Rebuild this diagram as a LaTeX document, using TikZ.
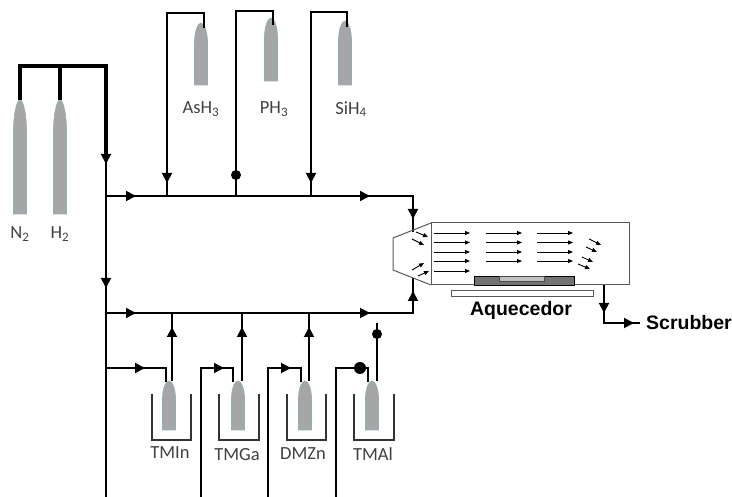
\documentclass[tikz,border=0pt]{standalone}
\usepackage{fontspec}
\setmainfont{Carlito}
\newfontfamily\boldsans{Liberation Sans}
\usetikzlibrary{arrows.meta}
\definecolor{bottlegray}{HTML}{A6A6A6}
\definecolor{bottleedge}{HTML}{8FB0B5}
\definecolor{labelgray}{HTML}{404040}
\tikzset{
    pipe/.style={line width=1.9pt,black,line join=miter},
    mainpipe/.style={line width=3.6pt,black,line join=miter},
    flow/.style={pipe,-{Triangle[length=10pt,width=10pt]}},
    dot/.style={circle,fill=black,inner sep=0pt,minimum size=#1},
    stream/.style={line width=0.9pt,black,-{Triangle[length=5pt,width=4pt]}},
    chamber/.style={draw=black!65,line width=1pt},
    gaslabel/.style={text=labelgray,font=\fontsize{18.5}{20}\selectfont,inner sep=0pt},
    boldlabel/.style={font=\boldsans\bfseries\fontsize{19.5}{21}\selectfont,inner sep=0pt},
    bath/.style={draw=black!80,line width=1.1pt}
}
\newcommand{\bottle}[4]{% centre x, top y, bottom y, shoulder length
    \filldraw[fill=bottlegray,draw=bottleedge,line width=0.7pt]
        (#1-6.5,#3) -- (#1-6.5,#2+#4) .. controls (#1-6.5,#2+#4*0.4) and (#1-3,#2) .. (#1,#2)
        .. controls (#1+3,#2) and (#1+6.5,#2+#4*0.4) .. (#1+6.5,#2+#4) -- (#1+6.5,#3) -- cycle;
}
\begin{document}
\begin{tikzpicture}[x=1pt,y=-1pt]
    \useasboundingbox (0,0) rectangle (732,497);
    % carrier gas bottles
    \bottle{20}{100}{214}{32}
    \bottle{60}{100}{214}{32}
    \node[gaslabel] (n2) at (20,234) {N\textsubscript{2}};
    \node[gaslabel] (h2) at (60,234) {H\textsubscript{2}};
    \draw[mainpipe] (20,100) -- (20,66) -- (106,66) -- (106,156);
    \draw[mainpipe] (60,100) -- (60,66);
    % main vertical line and the two manifolds
    \coordinate (mainTop) at (106,156);
    \coordinate (mainBottom) at (106,497);
    \coordinate (upperStart) at (106,196);
    \coordinate (lowerStart) at (106,313);
    \coordinate (upperEnd) at (413,196);
    \coordinate (lowerEnd) at (413,313);
    \draw[pipe] (mainTop) -- (mainBottom);
    \draw[flow] (106,150) -- (106,164);
    \draw[flow] (106,270) -- (106,288);
    \draw[pipe] (upperStart) -- (upperEnd) -- (413,232);
    \draw[pipe] (lowerStart) -- (lowerEnd) -- (413,278);
    \draw[flow] (upperStart) -- (136,196);
    \draw[flow] (340,196) -- (370,196);
    \draw[flow] (lowerStart) -- (136,313);
    \draw[flow] (340,313) -- (370,313);
    \draw[flow] (413,196) -- (413,219);
    \draw[flow] (413,313) -- (413,291);
    % hydride bottles
    \bottle{201}{23}{85}{20}
    \bottle{271}{18}{81}{20}
    \bottle{345}{21}{85}{20}
    \node[gaslabel] (ash3) at (201,109) {AsH\textsubscript{3}};
    \node[gaslabel] (ph3) at (274,109) {PH\textsubscript{3}};
    \node[gaslabel] (sih4) at (351,109) {SiH\textsubscript{4}};
    \draw[pipe] (204,28) -- (204,13) -- (167,13) -- (167,196);
    \draw[pipe] (273,25) -- (273,11) -- (236,11) -- (236,196);
    \draw[pipe] (347,27) -- (347,12) -- (311,12) -- (311,196);
    \draw[flow] (167,165) -- (167,183);
    \draw[flow] (311,165) -- (311,183);
    \node[dot=10pt] (ph3dot) at (236,175) {};
    % bubblers
    \foreach \xl/\xc/\xr in {152/169/191,219/238/259,287/305/326,354/372/394}{
        \draw[bath] (\xl,394) -- (\xl,440) -- (\xr,440) -- (\xr,394);
        \bottle{\xc}{381}{430}{18}
    }
    \node[gaslabel] (tmin) at (170,453) {TMIn};
    \node[gaslabel] (tmga) at (237,455) {TMGa};
    \node[gaslabel] (dmzn) at (303,454) {DMZn};
    \node[gaslabel] (tmal) at (373,454) {TMAl};
    % bubbler lines
    \draw[pipe] (106,368) -- (166,368) -- (166,382);
    \draw[pipe] (201,497) -- (201,368) -- (233,368) -- (233,382);
    \draw[pipe] (268,497) -- (268,368) -- (301,368) -- (301,382);
    \draw[pipe] (336,497) -- (336,368) -- (368,368) -- (368,382);
    \draw[flow] (120,368) -- (145,368);
    \draw[flow] (208,368) -- (224,368);
    \draw[flow] (275,368) -- (291,368);
    \node[dot=12pt] (tmaldot) at (360,368) {};
    \draw[pipe] (172,381) -- (172,313);
    \draw[pipe] (242,381) -- (242,313);
    \draw[pipe] (309,381) -- (309,313);
    \draw[flow] (172,350) -- (172,327);
    \draw[flow] (242,350) -- (242,327);
    \draw[flow] (309,350) -- (309,327);
    \draw[pipe] (377,381) -- (377,323);
    \node[dot=10pt] (tmaltop) at (377,334) {};
    % reactor
    \draw[chamber] (431,223) -- (393,238) -- (393,270) -- (431,285);
    \draw[chamber,fill=white] (431,223) rectangle (629,285);
    \draw[draw=black,fill=black!55,line width=0.7pt] (474,276) rectangle (574,285);
    \draw[draw=black!70,fill=black!25,line width=0.7pt] (499,276) rectangle (544,281);
    \draw[chamber,fill=white] (451,291) rectangle (593,297);
    \node[boldlabel] (heater) at (521,310) {Aquecedor};
    % gas streams
    \foreach \y in {233,242.5,252,261,271}{
        \draw[stream] (434,\y) -- (470,\y);
    }
    \foreach \y in {233,242.5,252,261}{
        \draw[stream] (486,\y) -- (522,\y);
        \draw[stream] (537,\y) -- (573,\y);
    }
    \draw[stream] (589,239) -- (601,245);
    \draw[stream] (586,247) -- (597,252);
    \draw[stream] (582,257) -- (593,262);
    \draw[stream] (578,264) -- (590,269);
    \draw[stream] (416,232) -- (428,237);
    \draw[stream] (412,239) -- (424,245);
    \draw[stream] (412,270) -- (424,263);
    \draw[stream] (418,276) -- (429,271);
    % exhaust
    \node[boldlabel,anchor=west] (scrubber) at (646,323) {Scrubber};
    \coordinate (exhaust) at (604,323);
    \draw[pipe,shorten >=6pt] (604,285) -- (exhaust) -- (scrubber.west);
    \draw[flow] (604,290) -- (604,313);
    \draw[flow] (exhaust) -- (634,323);
\end{tikzpicture}
\end{document}
